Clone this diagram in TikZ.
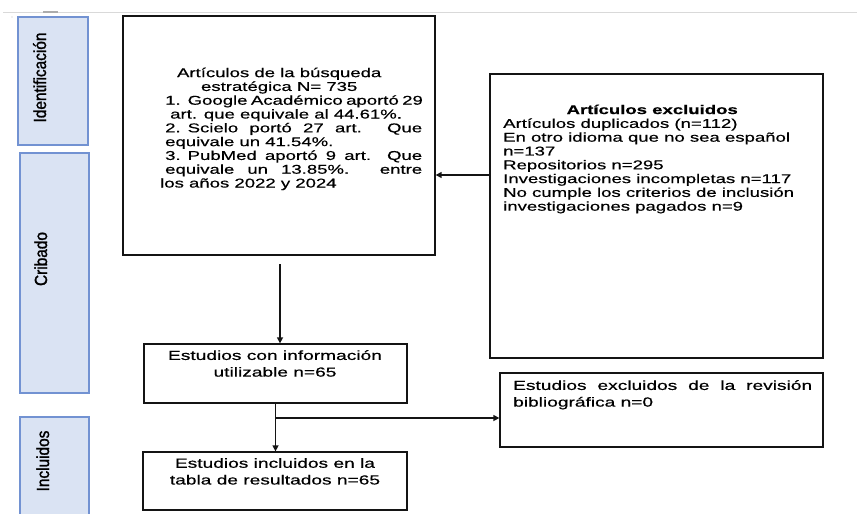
\documentclass[tikz,border=0pt]{standalone}
\usepackage{fontspec}
\setmainfont{Liberation Sans}[FakeStretch=1.45,FakeBold=0.5]
\newfontfamily\sidefont{Liberation Sans}[FakeStretch=0.88,FakeBold=1.4]
\usetikzlibrary{arrows.meta,calc}
\definecolor{sidefill}{RGB}{218,227,243}
\definecolor{sidedraw}{RGB}{114,146,210}
\definecolor{linecol}{RGB}{20,20,20}
\begin{document}
\begin{tikzpicture}[x=1pt,y=-1pt,
  box/.style={draw=linecol, line width=1.3pt, inner sep=0pt},
  sidebox/.style={draw=sidedraw, fill=sidefill, line width=1.2pt, inner sep=0pt},
  sidelabel/.style={rotate=90, font=\sidefont\fontsize{17.5}{19}\selectfont, inner sep=0pt, anchor=base},
  txt/.style={inner sep=0pt, font=\fontsize{12.8}{13.8}\selectfont, align=left},
  txtb/.style={inner sep=0pt, font=\fontsize{13.2}{16.7}\selectfont},
  arr/.style={draw=linecol, line width=1.4pt, -{Triangle[length=6pt,width=6pt]}}
  ]
\useasboundingbox (0,0) rectangle (857,514);
\fill[white] (0,0) rectangle (857,514);
% top rule
\coordinate (r0) at (3,12);
\coordinate (r1) at (857,12);
\draw[gray!30, line width=0.8pt] (r0) -- (r1);
\coordinate (m0) at (43,12);
\coordinate (m1) at (58,12);
\draw[gray!65, line width=1.2pt] (m0) -- (m1);
\fill[gray!50] (12,17) circle (0.7);

% side boxes
\node[sidebox, minimum width=70pt, minimum height=128pt] (s1) at (53,81) {};
\node[sidebox, minimum width=69pt, minimum height=240pt] (s2) at (54.5,273) {};
\node[sidebox, minimum width=69pt, minimum height=113pt] (s3) at (54.5,473.5) {};
\node[sidelabel] (l1) at (46,77.5) {Identificación};
\node[sidelabel] (l2) at (47,259) {Cribado};
\node[sidelabel] (l3) at (49,461) {Incluidos};

% main boxes
\node[box, minimum width=312pt, minimum height=239pt] (b1) at (279,135.5) {};
\node[box, minimum width=333pt, minimum height=284pt] (bx) at (656.5,216) {};
\node[box, minimum width=263pt, minimum height=59pt] (bi) at (275.5,373.5) {};
\node[box, minimum width=264pt, minimum height=58pt] (bn) at (275,481) {};
\node[box, minimum width=323pt, minimum height=74pt] (be) at (661.5,410) {};

% texts
\node[txt, anchor=north west] (t1) at (160,67.5) {%
\makebox[238pt][c]{Artículos de la búsqueda}\\
\makebox[238pt][c]{estratégica N= 735}\\
\hspace*{5pt}\makebox[257pt][s]{1.\hspace{7pt}Google Académico aportó 29}\\
\hspace*{10pt}art. que equivale al 44.61\%.\\
\hspace*{5pt}\makebox[257pt][s]{2.\hspace{7pt}Scielo portó 27 art. Que}\\
\hspace*{5pt}equivale un 41.54\%.\\
\hspace*{5pt}\makebox[257pt][s]{3.\hspace{7pt}PubMed aportó 9 art. Que}\\
\hspace*{5pt}\makebox[257pt][s]{equivale un 13.85\%. entre}\\
los años 2022 y 2024};

\node[txt, anchor=north west] (tx) at (503,104.5) {%
\makebox[298pt][c]{\bfseries Artículos excluidos}\\
Artículos duplicados (n=112)\\
En otro idioma que no sea español\\
n=137\\
Repositorios n=295\\
Investigaciones incompletas n=117\\
No cumple los criterios de inclusión\\
investigaciones pagados n=9};

\node[txtb, anchor=north, align=center] (ti) at (275,350) {Estudios con información\\utilizable n=65};
\node[txtb, anchor=north, align=center] (tn) at (275,458) {Estudios incluidos en la\\tabla de resultados n=65};
\node[txtb, anchor=north west, align=left] (te) at (513,380) {%
\makebox[299pt][s]{Estudios excluidos de la revisión}\\
bibliográfica n=0};

% connectors
\coordinate (a1) at (280,264);
\draw[arr] (a1) -- (a1 |- bi.north);
\coordinate (yb) at (0,175);
\draw[arr] (bx.west |- yb) -- (b1.east |- yb);
\draw[arr] (bi.south) -- (bi.south |- bn.north);
\coordinate (br) at (275.5,418);
\draw[arr] (br) -- (br -| be.west);
\end{tikzpicture}
\end{document}
